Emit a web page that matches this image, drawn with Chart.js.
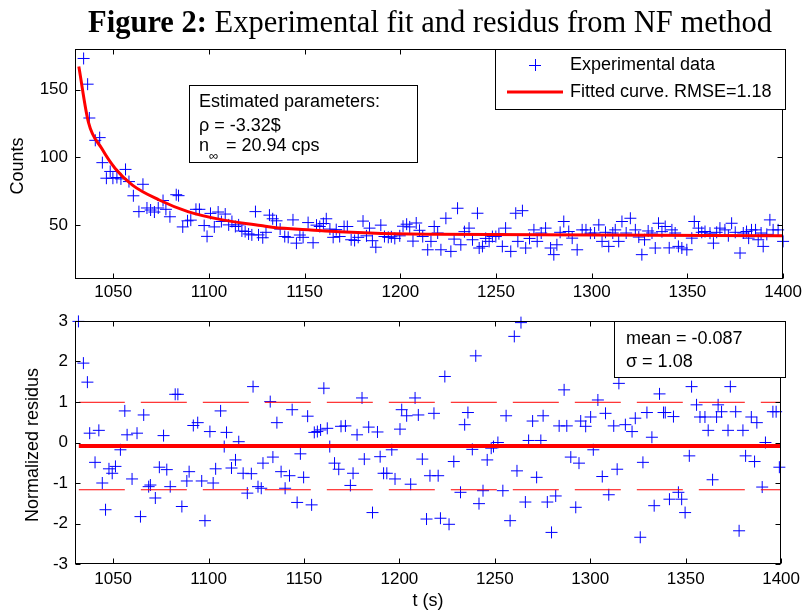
<!DOCTYPE html>
<html><head><meta charset="utf-8">
<script src="https://cdn.jsdelivr.net/npm/chart.js@4/dist/chart.umd.min.js"></script>
<style>
html,body{margin:0;padding:0;background:#fff;}
#wrap{position:relative;width:805px;height:613px;overflow:hidden;background:#fff;}
canvas{position:absolute;left:0;}
#title{position:absolute;top:5px;left:75px;width:710px;text-align:center;white-space:nowrap;
 font-family:"Liberation Serif","Times New Roman",serif;font-size:30.5px;line-height:34px;color:#000;}
</style></head>
<body><div id="wrap">
<canvas id="c1" width="805" height="300" style="top:0"></canvas>
<canvas id="c2" width="805" height="313" style="top:300px"></canvas>
<div id="title"><b>Figure 2:</b> Experimental fit and residus from NF method</div>
</div>
<script>
// ---------- DATA ----------
const xTicks = [1050,1100,1150,1200,1250,1300,1350,1400];
const countTicks = [50,100,150];
const residTicks = [-3,-2,-1,0,1,2,3];

const dataT = [1034.5,1036.6,1037.5,1040.6,1042.9,1044.3,1046.4,1048.4,1049.8,1051.9,1054,1056.4,1058.2,1060.5,1063.4,1065.5,1067.6,1069.5,1071.5,1073.5,1076,1077.5,1079.6,1082.9,1084.1,1086.3,1088.8,1090.5,1093.2,1095,1097.5,1099,1100.8,1102.8,1104.8,1106.5,1108.5,1110.3,1112,1113.8,1115.5,1117.2,1118.9,1120.7,1122.4,1124.3,1125.9,1128.1,1129.8,1131.6,1133.3,1135.3,1137.2,1139.6,1141.4,1143.9,1145.7,1147.5,1149.2,1151.8,1154.4,1156.2,1157.9,1159.8,1161.3,1163.2,1164.9,1166.5,1168.3,1170.6,1172.3,1174.3,1176.1,1178,1180.5,1182.3,1183.9,1185.4,1187.2,1189.8,1191.7,1193.7,1195.3,1197.1,1199.7,1201.4,1203.3,1204.9,1206.6,1208.3,1210,1211.7,1214.3,1216,1217.7,1219.5,1221.2,1223.8,1226.4,1228.1,1229.9,1231.6,1233.5,1235.9,1237.7,1240.3,1241.2,1242.9,1244.6,1246.4,1248.1,1249.9,1251.5,1253.3,1255,1257.7,1260.3,1261.4,1263.8,1265.5,1267.5,1269.8,1271.5,1273.6,1275.9,1278.5,1280.2,1281.8,1283.5,1285.4,1288,1289.8,1292.4,1295,1297,1299.3,1301.5,1303.7,1305.4,1307.2,1308.9,1311,1312.3,1314.1,1315.8,1318,1320.2,1322.8,1324.6,1326.2,1327.6,1329.5,1331.5,1333.2,1334.9,1336.7,1338.4,1340.5,1341.9,1343.6,1345.3,1347.1,1349.7,1352.3,1353.6,1355.8,1357.5,1359.2,1361.8,1363.6,1365.3,1367,1369.6,1371.4,1373.1,1375,1377.5,1379.2,1380.9,1382,1383.5,1385.6,1387,1388.5,1389.6,1391.5,1393.1,1394.8,1397.4,1400];
const dataCounts = [173,154,129,112.5,114.5,96,84.5,89.5,84.5,85,84,91,82,71.5,59.8,80,62.5,61,59.5,62.5,68,61.5,56,72.3,71.6,48.5,53,53.5,61.5,61.5,49.5,41.5,58.5,48.5,59.5,52.5,58,50,52.5,48.8,50,45.5,45.1,43.3,42.6,59.8,42.6,40.5,44.5,57.2,54.5,53,46.9,41.4,40.8,53.7,36.5,42.5,40.8,51.7,36.8,49.8,48.8,51,54.5,46.9,40.8,46.5,41.4,48.8,48.8,39,38.5,40.8,52.8,41.9,47.6,38.3,33.5,49.8,41.4,40.8,41.2,40,41.9,49,50.5,48.5,38,51.4,46,41.4,31.6,37.8,48.8,44,31.6,54.9,30.4,39.5,62.3,35.3,45,47.6,39,58.6,32.9,34.1,40,37.8,41.4,41.4,43.5,34.1,47.6,30.4,58.6,37.8,60.5,32.9,40,46.3,37.8,44,47.6,32.9,28,35.3,44.5,52.5,45.1,40.2,31.6,46.3,46.3,43.9,44,50,37.8,44.5,34.1,44,46.3,37.8,52.5,44,54.9,46.3,41,28,39,45.5,44,32.9,51.2,45,48.8,33,46.3,44,34.1,32.9,31.6,40.2,52.5,47.6,44.5,45.1,43.9,36.5,44.5,47.6,46.3,42,51.2,44.5,29.2,44,45.1,40.2,46.3,46.3,39,44,34.1,43,53.7,46.3,46.3,37.8];

const fitT = [1032,1037,1044,1051,1060,1074,1089,1107,1127,1134,1153,1168,1187,1219,1302,1400];
const fitCounts = [167,126,106.4,91.7,79.4,68.4,59.8,53.7,49.5,48,46.3,45,43.9,43.1,42.6,41.9];

const residT = [1031.8,1034.4,1036.5,1037.7,1040.5,1042.5,1044.3,1046,1047.8,1049.5,1051.2,1053.8,1056.1,1057.3,1059.9,1062.5,1064.3,1066,1068.6,1069.5,1072.1,1074.2,1076.4,1078.1,1079.9,1082.5,1083.9,1086,1088.6,1089.8,1092,1094.3,1096.4,1098.1,1100.7,1102.4,1103.7,1106.3,1108.2,1109.4,1112,1114.1,1115.8,1118.1,1120.3,1122.4,1123.3,1125.9,1127.6,1128.5,1132.3,1133.7,1135.8,1138,1140.1,1142.4,1143.8,1146.4,1148.1,1149.8,1151.9,1154,1155.4,1157,1158.7,1160.4,1162.2,1163.5,1166,1168.2,1169.4,1171.7,1174.3,1175.7,1177.8,1180.4,1181.6,1183.9,1185.9,1188.5,1189.9,1191.7,1193.4,1196,1197.7,1200.3,1201.2,1203.8,1205.9,1208.2,1209.9,1212,1214.2,1216,1218.1,1220.3,1221.5,1223.8,1226,1228.5,1232,1234.2,1235.9,1238.2,1240,1241.7,1243.8,1246,1248.1,1249.3,1251.6,1254.2,1255.9,1258,1260.2,1261.6,1263.7,1266,1267.7,1269.8,1271.9,1274.1,1275.3,1277.5,1279.7,1281.9,1283.7,1286.3,1287.7,1289.8,1292.4,1294.1,1295,1297.6,1300.2,1301.6,1304,1306.3,1308,1309.7,1312.3,1314.1,1315,1318.4,1321.9,1323.6,1326.2,1327.6,1329.7,1332.3,1333.5,1336.3,1338.4,1339.3,1341.5,1343.6,1346.2,1347.9,1349.7,1351.9,1353.1,1355.7,1357.5,1360.1,1361.8,1364.1,1366.2,1367,1368.8,1372.2,1373.4,1376.2,1378,1380,1381.4,1384.4,1386.1,1387.3,1390.1,1391.8,1395.7,1397.4,1399.1];
const residVals = [2.99,1.96,1.49,0.23,-0.49,0.30,-1.0,-1.66,-0.65,-0.76,-0.59,-0.18,0.78,0.19,-0.9,0.23,-1.83,0.68,-1.09,-1.05,-1.37,-0.61,0.17,-0.67,-1.09,1.19,1.19,-1.58,-0.95,-0.72,0.42,0.49,-0.95,-1.93,0.27,-1.0,-0.65,0.78,-0.1,0.25,-0.63,-0.43,0.02,-0.76,-1.25,-0.77,1.38,-1.09,-1.13,-0.51,1.01,-0.36,0.49,-0.72,-1.13,-0.82,0.81,-1.48,-0.28,-0.86,0.65,-1.54,0.25,0.27,0.31,1.34,0.35,-0.1,-0.51,-0.66,0.4,0.41,-1.06,-0.76,0.19,1.1,-0.41,0.38,-1.73,0.26,-0.35,-0.76,-0.76,-0.18,-0.9,0.33,0.81,0.66,-1.03,1.1,0.68,-0.41,-1.89,-0.82,0.72,-0.82,-1.87,1.63,-2.02,-0.47,-1.23,0.44,0.74,-0.17,2.14,-1.51,-1.19,-0.43,-0.14,-0.1,0.0,-1.19,0.66,-1.93,2.62,-0.7,2.96,-1.47,0.05,0.53,-0.86,0.05,0.66,-1.47,-2.22,-1.32,0.41,1.3,0.41,-0.36,-1.6,-0.51,0.53,0.4,0.63,-0.18,1.05,-0.84,0.72,-1.29,0.41,-0.66,1.46,0.44,0.27,0.6,-2.34,-0.49,0.74,0.13,-1.56,1.2,0.74,0.74,-1.4,0.64,-1.23,-1.4,-1.73,-0.33,1.38,0.93,0.63,0.63,0.3,-0.92,0.63,0.93,0.76,0.3,1.38,0.76,-2.18,0.3,-0.33,0.63,-0.47,0.49,-1.1,0.0,0.76,0.76,-0.61];

const residMean = -0.087;
const residSigma = 1.08;
const rmse = 1.18;
const rhoText = "-3.32$";
const nInfText = "20.94 cps";

// ---------- STYLE ----------
const BLUE = '#0000ff', RED = '#ff0000';
const SANS = '"Liberation Sans", Arial, Helvetica, sans-serif';
Chart.defaults.font.family = SANS;
Chart.defaults.color = '#000';

const toXY = (xs, ys) => xs.map((v, i) => ({x: v, y: ys[i]}));

function frameAndTicks(chart){
  const {ctx, chartArea: a, scales: {x, y}} = chart;
  ctx.save();
  ctx.strokeStyle = '#000'; ctx.lineWidth = 1;
  const L = Math.round(a.left)+0.5, R = Math.round(a.right)-0.5, T = Math.round(a.top)+0.5, B = Math.round(a.bottom)-0.5;
  ctx.strokeRect(L, T, R-L, B-T);
  ctx.beginPath();
  const len = 5;
  x.ticks.forEach(t => {
    const p = Math.round(x.getPixelForValue(t.value))+0.5;
    ctx.moveTo(p, B); ctx.lineTo(p, B-len);
    ctx.moveTo(p, T); ctx.lineTo(p, T+len);
  });
  y.ticks.forEach(t => {
    const p = Math.round(y.getPixelForValue(t.value))+0.5;
    ctx.moveTo(L, p); ctx.lineTo(L+len, p);
    ctx.moveTo(R, p); ctx.lineTo(R-len, p);
  });
  ctx.stroke();
  ctx.restore();
}
function box(ctx, x, y, w, h){
  ctx.save();
  ctx.fillStyle = '#fff'; ctx.fillRect(x, y, w, h);
  ctx.strokeStyle = '#000'; ctx.lineWidth = 1;
  ctx.strokeRect(x+0.5, y+0.5, w, h);
  ctx.restore();
}
function text(ctx, s, x, y, size, rot, align){
  ctx.save();
  ctx.font = size + 'px ' + SANS;
  ctx.fillStyle = '#000';
  ctx.textBaseline = 'middle';
  ctx.textAlign = align || 'left';
  ctx.translate(x, y);
  if (rot) ctx.rotate(rot);
  ctx.fillText(s, 0, 0);
  ctx.restore();
}

const topDecor = {
  id: 'topDecor',
  afterDraw(chart){
    const ctx = chart.ctx;
    frameAndTicks(chart);
    text(ctx, 'Counts', 18, 166, 18, -Math.PI/2, 'center');
    box(ctx, 189, 85, 228, 77);
    text(ctx, 'Estimated parameters:', 199, 102, 18);
    text(ctx, '\u03C1 = ' + rhoText, 199, 126, 18);
    text(ctx, 'n', 199, 146, 18);
    text(ctx, '\u221E', 209, 156, 13);
    text(ctx, '= ' + nInfText, 226, 146, 18);
    box(ctx, 495, 49, 290, 60);
    ctx.save();
    ctx.strokeStyle = BLUE; ctx.lineWidth = 1;
    ctx.beginPath();
    ctx.moveTo(529, 65.5); ctx.lineTo(541, 65.5);
    ctx.moveTo(535.5, 59); ctx.lineTo(535.5, 71);
    ctx.stroke();
    ctx.strokeStyle = RED; ctx.lineWidth = 3;
    ctx.beginPath(); ctx.moveTo(507, 92); ctx.lineTo(563, 92); ctx.stroke();
    ctx.restore();
    text(ctx, 'Experimental data', 570, 65, 18);
    text(ctx, 'Fitted curve. RMSE=' + rmse.toFixed(2), 570, 92, 18);
  }
};
const botDecor = {
  id: 'botDecor',
  afterDraw(chart){
    const ctx = chart.ctx;
    frameAndTicks(chart);
    text(ctx, 'Normalized residus', 33, 145, 18, -Math.PI/2, 'center');
    text(ctx, 't (s)', 428, 301, 18, 0, 'center');
    box(ctx, 614, 21, 171, 56);
    text(ctx, 'mean = ' + residMean.toFixed(3), 626, 39, 18);
    text(ctx, '\u03C3 = ' + residSigma.toFixed(2), 626, 62, 18);
  }
};

function xScale(pad){
  return {
    type: 'linear', min: 1030, max: 1400,
    afterBuildTicks: s => { s.ticks = xTicks.map(v => ({value: v})); },
    afterFit: s => { s.height = pad.h; },
    grid: {display: false, drawTicks: false}, border: {display: false},
    ticks: {font: {size: 17}, color: '#000', padding: pad.p, maxRotation: 0, minRotation: 0, autoSkip: false, callback: v => String(v)}
  };
}
function yScale(min, max, tickVals){
  return {
    type: 'linear', min, max,
    afterBuildTicks: s => { s.ticks = tickVals.map(v => ({value: v})); },
    afterFit: s => { s.width = 75; },
    grid: {display: false, drawTicks: false}, border: {display: false},
    ticks: {font: {size: 17}, color: '#000', padding: 7, autoSkip: false, callback: v => String(v)}
  };
}
const common = {
  responsive: false, animation: false, devicePixelRatio: 1, events: [],
  plugins: {legend: {display: false}, tooltip: {enabled: false}, title: {display: false}}
};

new Chart(document.getElementById('c1'), {
  type: 'scatter',
  data: {datasets: [
    {label: 'Fitted curve', data: toXY(fitT, fitCounts), showLine: true, borderColor: RED, borderWidth: 3,
     pointRadius: 0, cubicInterpolationMode: 'monotone', fill: false, clip: false},
    {label: 'Experimental data', data: toXY(dataT, dataCounts), pointStyle: 'cross', pointRadius: 6,
     borderColor: BLUE, backgroundColor: BLUE, pointBorderWidth: 1, borderWidth: 1, showLine: false, clip: false}
  ]},
  options: Object.assign({}, common, {
    layout: {padding: {top: 49, right: 20, left: 0, bottom: 0}},
    scales: {x: xScale({h: 21, p: 3}), y: yScale(10, 180, countTicks)}
  }),
  plugins: [topDecor]
});

const meanLine = [{x: 1032, y: residMean}, {x: 1400, y: residMean}];
const upLine = [{x: 1032, y: residMean + residSigma}, {x: 1400, y: residMean + residSigma}];
const loLine = [{x: 1032, y: residMean - residSigma}, {x: 1400, y: residMean - residSigma}];

new Chart(document.getElementById('c2'), {
  type: 'scatter',
  data: {datasets: [
    {label: 'mean', data: meanLine, showLine: true, borderColor: RED, borderWidth: 4, pointRadius: 0},
    {label: '+sigma', data: upLine, showLine: true, borderColor: RED, borderWidth: 1, borderDash: [46, 16], pointRadius: 0},
    {label: '-sigma', data: loLine, showLine: true, borderColor: RED, borderWidth: 1, borderDash: [46, 16], pointRadius: 0},
    {label: 'residus', data: toXY(residT, residVals), pointStyle: 'cross', pointRadius: 6,
     borderColor: BLUE, backgroundColor: BLUE, pointBorderWidth: 1, borderWidth: 1, showLine: false, clip: false}
  ]},
  options: Object.assign({}, common, {
    layout: {padding: {top: 21, right: 20, left: 0, bottom: 0}},
    scales: {x: xScale({h: 49, p: 5}), y: yScale(-3, 3, residTicks)}
  }),
  plugins: [botDecor]
});
</script>
</body></html>
